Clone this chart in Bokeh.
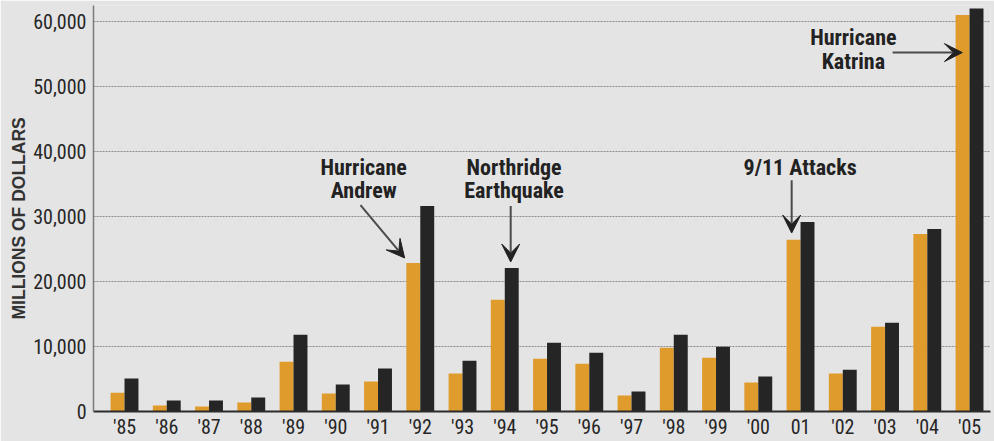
from bokeh.plotting import figure
from bokeh.models import (Range1d, FixedTicker, NumeralTickFormatter, Arrow, VeeHead,
                          ColumnDataSource, Title)
from bokeh.core.properties import value
from bokeh.embed import file_html
from bokeh.resources import INLINE

# ---- data (millions of dollars) ----
years = ["'85", "'86", "'87", "'88", "'89", "'90", "'91", "'92", "'93", "'94",
         "'95", "'96", "'97", "'98", "'99", "'00", "01", "'02", "'03", "'04", "'05"]
series_a = [2900, 920, 770, 1380, 7670, 2760, 4600, 22850, 5830, 17180,
            8130, 7360, 2450, 9820, 8280, 4450, 26430, 5830, 13040, 27300, 61000]
series_b = [5060, 1690, 1690, 2150, 11800, 4140, 6600, 31600, 7820, 22090,
            10580, 9050, 3070, 11800, 9970, 5370, 29140, 6440, 13650, 28070, 62000]
y_ticks = [0, 10000, 20000, 30000, 40000, 50000, 60000]
y_title = "MILLIONS OF DOLLARS"

# annotations: text lines and arrows (category index, value)
ann_text = ["Hurricane", "Andrew", "Northridge", "Earthquake", "9/11 Attacks", "Hurricane", "Katrina"]
ann_x = [5.66, 5.66, 9.22, 9.22, 15.99, 17.25, 17.25]
ann_y = [37580, 34050, 37580, 34050, 37580, 57510, 53830]
arrow_start = [(5.585, 31750), (9.14, 31600), (15.79, 35580), (18.18, 55210)]
arrow_end = [(6.63, 23620), (9.14, 23000), (15.79, 27450), (19.83, 55210)]

BG = "#e4e4e4"
ORANGE = "#df9c2d"
DARK = "#262526"
FONT = "Roboto Condensed, DejaVu Sans Condensed, Roboto, sans-serif"

idx = list(range(len(years)))
src = ColumnDataSource(dict(
    xa=[i - 0.165 for i in idx], xb=[i + 0.165 for i in idx], a=series_a, b=series_b))

p = figure(width=994, height=441, output_backend="svg", toolbar_location=None,
           x_range=Range1d(-0.734, 20.496), y_range=Range1d(0, 62455),
           min_border_left=93, min_border_right=4, min_border_top=5, min_border_bottom=29)
p.background_fill_color = BG
p.border_fill_color = BG
p.outline_line_color = None

p.vbar(x="xa", top="a", width=0.33, source=src, fill_color=ORANGE, line_color=None)
p.vbar(x="xb", top="b", width=0.33, source=src, fill_color=DARK, line_color=None)

# grid
p.xgrid.visible = False
p.ygrid.grid_line_color = "#8c8c8c"
p.ygrid.grid_line_dash = "2 1"
p.ygrid.grid_line_width = 1
p.ygrid.ticker = FixedTicker(ticks=y_ticks[1:])

# x axis
p.xaxis.ticker = FixedTicker(ticks=idx)
p.xaxis.major_label_overrides = {i: y for i, y in enumerate(years)}
p.xaxis.axis_line_color = "#2b2b2b"
p.xaxis.axis_line_width = 2
p.xaxis.major_tick_line_color = None
p.xaxis.major_tick_out = 0
p.xaxis.major_tick_in = 0
p.xaxis.minor_tick_line_color = None
p.xaxis.minor_tick_out = 0
p.xaxis.major_label_text_font = FONT
p.xaxis.major_label_text_font_size = "20px"
p.xaxis.major_label_text_color = "#262626"
p.xaxis.major_label_standoff = 3

# y axis
p.yaxis.ticker = FixedTicker(ticks=y_ticks)
p.yaxis.formatter = NumeralTickFormatter(format="0,0")
p.yaxis.axis_line_color = "#7a7a7a"
p.yaxis.axis_line_width = 1.5
p.yaxis.major_tick_line_color = None
p.yaxis.major_tick_out = 0
p.yaxis.major_tick_in = 0
p.yaxis.minor_tick_line_color = None
p.yaxis.minor_tick_out = 0
p.yaxis.major_label_text_font = FONT
p.yaxis.major_label_text_font_size = "20px"
p.yaxis.major_label_text_color = "#262626"
p.yaxis.major_label_standoff = 7

# y axis title, as a side title to the left of the axis
p.add_layout(Title(text=y_title, align="left", offset=92,
                   text_font="Liberation Sans", text_font_style="bold",
                   text_font_size="17.5px", text_color="#333333", standoff=4), "left")

# annotation text
p.text(x=ann_x, y=ann_y, text=ann_text, text_font=value(FONT), text_font_style="bold",
       text_font_size="22px", text_color="#222222", text_align="center",
       text_baseline="alphabetic")

for (xs, ys), (xe, ye) in zip(arrow_start, arrow_end):
    p.add_layout(Arrow(end=VeeHead(size=18, fill_color="#222222", line_color="#222222"),
                       x_start=xs, y_start=ys, x_end=xe, y_end=ye,
                       line_color="#4a4a4a", line_width=2))

open("out.html", "w").write(file_html(p, INLINE))
